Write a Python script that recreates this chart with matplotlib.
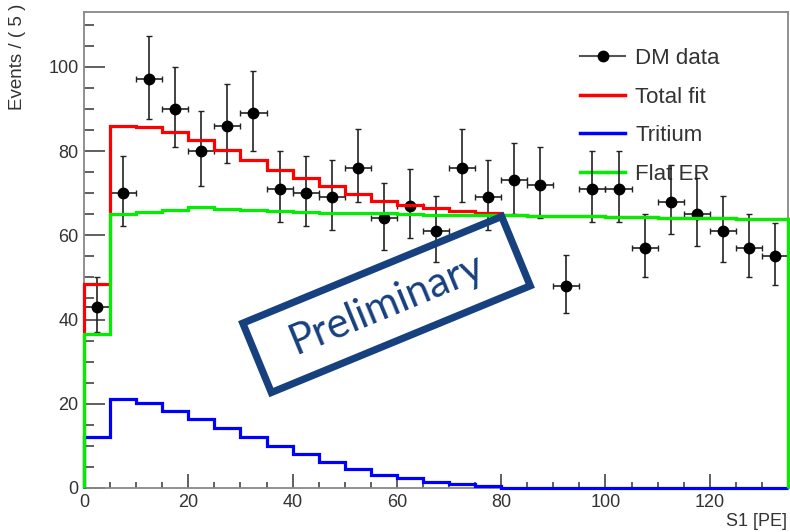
import matplotlib
matplotlib.use("Agg")
import matplotlib.pyplot as plt
from matplotlib.lines import Line2D
from matplotlib.patches import Rectangle
from matplotlib.transforms import Affine2D
from matplotlib.ticker import MultipleLocator
import numpy as np

plt.rcParams['font.family'] = ['Liberation Sans', 'DejaVu Sans']

# S1 [PE] binning, 5 PE per bin
bin_edges = list(range(0, 140, 5))

dm_counts = [43, 70, 97, 90, 80, 86, 89, 71, 70, 69, 76, 64, 67, 61,
             76, 69, 73, 72, 48, 71, 71, 57, 68, 65, 61, 57, 55]
err_low = [6.0, 7.9, 9.4, 9.0, 8.4, 8.8, 8.9, 7.9, 7.9, 7.8, 8.2, 7.5, 7.7, 7.3,
           8.2, 7.8, 8.0, 8.0, 6.4, 7.9, 7.9, 7.0, 7.7, 7.6, 7.3, 7.0, 6.9]
err_high = [7.1, 8.9, 10.4, 10.0, 9.5, 9.8, 9.9, 8.9, 8.9, 8.8, 9.2, 8.5, 8.7, 8.3,
            9.2, 8.8, 9.0, 9.0, 7.4, 8.9, 8.9, 8.0, 8.7, 8.6, 8.3, 8.0, 7.9]

total_fit = [48.4, 85.9, 85.6, 84.4, 82.7, 80.2, 77.8, 75.6, 73.5, 71.6, 69.9,
             68.1, 67.2, 66.4, 65.8, 65.4, 64.7, 64.6, 64.6, 64.5, 64.4, 64.3,
             64.2, 64.1, 64.0, 63.9, 63.8]
tritium = [12.0, 21.1, 20.1, 18.2, 16.3, 14.2, 12.0, 10.0, 8.0, 6.2, 4.5,
           3.1, 2.4, 1.5, 0.9, 0.5, 0, 0, 0, 0, 0, 0, 0, 0, 0, 0, 0]
flat_er = [36.5, 65.0, 65.5, 66.0, 66.6, 66.3, 65.9, 65.7, 65.6, 65.4, 65.3,
           65.2, 65.0, 64.9, 64.8, 64.8, 64.7, 64.6, 64.6, 64.5, 64.4, 64.3,
           64.2, 64.1, 64.0, 63.9, 63.8]

edges = np.array(bin_edges)
centers = (edges[:-1] + edges[1:]) / 2
half_w = np.diff(edges) / 2

fig = plt.figure(figsize=(7.9, 5.32), dpi=100)
ax = fig.add_axes([84 / 790, 44 / 532, 704 / 790, 476 / 532])

ax.errorbar(centers, dm_counts, yerr=[err_low, err_high], xerr=half_w,
            fmt='o', color='black', ecolor='#222222', elinewidth=1.2,
            capsize=2.5, capthick=1.0, markersize=7.5, zorder=2)

ax.stairs(total_fit, edges, baseline=0, color='#ff0000', lw=2.3, zorder=3, clip_on=False)
ax.stairs(tritium, edges, baseline=0, color='#0000ff', lw=2.3, zorder=4, clip_on=False)
ax.stairs(flat_er, edges, baseline=0, color='#00ee00', lw=2.3, zorder=5, clip_on=False)

ax.set_xlim(0, 135)
ax.set_ylim(0, 113)

ax.xaxis.set_major_locator(MultipleLocator(20))
ax.xaxis.set_minor_locator(MultipleLocator(5))
ax.yaxis.set_major_locator(MultipleLocator(20))
ax.yaxis.set_minor_locator(MultipleLocator(5))
ax.tick_params(which='both', direction='in', colors='#444444', labelcolor='#333333',
               labelsize=13, top=False, right=False, width=1.2)
ax.tick_params(axis='y', which='major', length=15, pad=4)
ax.tick_params(axis='y', which='minor', length=7)
ax.tick_params(axis='x', which='major', length=10, pad=4)
ax.tick_params(axis='x', which='minor', length=4.5)
for s in ax.spines.values():
    s.set_color('#888888')
    s.set_linewidth(1.3)

fig.text(18 / 790, 1 - 4 / 532, 'Events / ( 5 )', rotation=90, ha='center',
         va='top', fontsize=13.5, color='#333333')
fig.text(787 / 790, 1 - 522 / 532, 'S1 [PE]', ha='right', va='center',
         fontsize=13, color='#333333')

handles = [
    Line2D([], [], color='#555555', lw=1.5, marker='o', markersize=7.5,
           markerfacecolor='black', markeredgecolor='black'),
    Line2D([], [], color='#ff0000', lw=2.5),
    Line2D([], [], color='#0000ff', lw=2.5),
    Line2D([], [], color='#00ee00', lw=2.5),
]
labels = ['DM data', 'Total fit', 'Tritium', 'Flat ER']
leg = ax.legend(handles, labels, loc='upper left', bbox_to_anchor=(0.692, 0.943),
                frameon=False, fontsize=16, handlelength=2.03, handletextpad=0.45,
                labelspacing=0.79, borderaxespad=0)
for t in leg.get_texts():
    t.set_color('#333333')
leg.set_zorder(1)

# "Preliminary" stamp, placed in pixel coordinates
cx, cy = 386.5, 532 - 304.5
angle = 22.4
box_w, box_h = 280, 75
stamp = Rectangle((-box_w / 2, -box_h / 2), box_w, box_h, fill=False,
                  ec='#17407f', lw=5.2,
                  transform=Affine2D().rotate_deg(angle).translate(cx, cy))
fig.add_artist(stamp)
fig.text(cx / 790, cy / 532, 'Preliminary', rotation=angle, rotation_mode='anchor',
         ha='center', va='center', fontsize=30, color='#17407f',
         family=['Lato', 'DejaVu Sans'])

fig.savefig('out.png', dpi=100)
